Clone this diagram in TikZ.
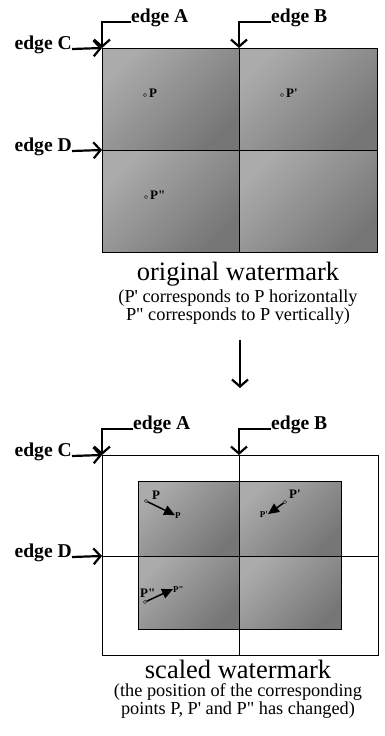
\documentclass[tikz,border=0pt]{standalone}
\usepackage{fontspec}
\setmainfont{Liberation Serif}[Ligatures=TeXOff]
\usetikzlibrary{arrows.meta, positioning, calc}
\definecolor{PanelDark}{HTML}{767676}
\definecolor{PanelLight}{HTML}{ABABAB}

\begin{document}
\begin{tikzpicture}[x=1pt, y=-1pt,
    edgelbl/.style={font=\fontsize{19.6}{20}\selectfont\bfseries, inner sep=0pt},
    caption/.style={font=\fontsize{26.5}{27}\selectfont, inner sep=0pt},
    subcap/.style={font=\fontsize{18.3}{18}\selectfont, align=center, inner sep=0pt},
    ptlbl/.style={font=\fontsize{13}{13}\selectfont\bfseries, inner sep=0pt},
    smallpt/.style={font=\fontsize{9}{9}\selectfont\bfseries, inner sep=0pt},
    dot/.style={circle, draw, fill=white, inner sep=0pt, minimum size=3pt, line width=0.5pt},
    pointer/.style={-{Straight Barb[length=7pt, width=16pt, line width=2.2pt]}, line width=2.2pt},
    moved/.style={-{Triangle[length=11pt, width=10pt]}, line width=1.5pt},
    quad/.style={left color=PanelLight, right color=PanelDark, shading angle=45}
  ]
    \useasboundingbox (0,0) rectangle (385,736);

    % original watermark
    \shade[quad] (102,48) rectangle (239,150);
    \shade[quad] (239,48) rectangle (377,150);
    \shade[quad] (102,150) rectangle (239,252);
    \shade[quad] (239,150) rectangle (377,252);
    \draw[line width=1pt] (102,48) rectangle (377,252);
    \draw[line width=1pt] (239,48) -- (239,252);
    \draw[line width=1pt] (102,150) -- (377,150);

    \coordinate (oA) at (102,48);
    \coordinate (oB) at (239,48);
    \coordinate (oC) at (102,48);
    \coordinate (oD) at (102,150);

    \node[edgelbl, anchor=base west] (oedgeA) at (131,22) {edge A};
    \node[edgelbl, anchor=base west] (oedgeB) at (271,22) {edge B};
    \node[edgelbl, anchor=base east] (oedgeC) at (72,49) {edge C};
    \node[edgelbl, anchor=base east] (oedgeD) at (72,151) {edge D};
    \draw[pointer] (oedgeA.base west) -| (oA);
    \draw[pointer] (oedgeB.base west) -| (oB);
    \draw[pointer] (oedgeC.base east) -- (oC);
    \draw[pointer] (oedgeD.base east) -- (oD);

    \node[dot] (oP) at (145,95) {};
    \node[ptlbl, anchor=base west] (oPl) at (149,97) {P};
    \node[dot] (oP1) at (282,95) {};
    \node[ptlbl, anchor=base west] (oP1l) at (286,97) {P'};
    \node[dot] (oP2) at (146,197) {};
    \node[ptlbl, anchor=base west] (oP2l) at (150,199) {P"};

    \node[caption] (ocap) at (238,274) {original watermark};
    \node[subcap] (osub) at (238,307) {(P' corresponds to P horizontally\\P" corresponds to P vertically)};

    \coordinate (down1) at (240,340);
    \coordinate (down2) at (240,388);
    \draw[pointer] (down1) -- (down2);

    % scaled watermark
    \shade[quad] (138,481) rectangle (239,556);
    \shade[quad] (239,481) rectangle (341,556);
    \shade[quad] (138,556) rectangle (239,629);
    \shade[quad] (239,556) rectangle (341,629);
    \draw[line width=0.8pt] (138,481) rectangle (341,629);
    \draw[line width=0.8pt] (102,455) rectangle (378,655);
    \draw[line width=0.8pt] (239,455) -- (239,655);
    \draw[line width=0.8pt] (102,556) -- (378,556);

    \coordinate (sA) at (102,455);
    \coordinate (sB) at (239,455);
    \coordinate (sC) at (102,455);
    \coordinate (sD) at (102,556);

    \node[edgelbl, anchor=base west] (sedgeA) at (133,429) {edge A};
    \node[edgelbl, anchor=base west] (sedgeB) at (271,429) {edge B};
    \node[edgelbl, anchor=base east] (sedgeC) at (72,456) {edge C};
    \node[edgelbl, anchor=base east] (sedgeD) at (72,557) {edge D};
    \draw[pointer] (sedgeA.base west) -| (sA);
    \draw[pointer] (sedgeB.base west) -| (sB);
    \draw[pointer] (sedgeC.base east) -- (sC);
    \draw[pointer] (sedgeD.base east) -- (sD);

    \node[dot] (sP) at (146,501) {};
    \node[ptlbl, anchor=base west] (sPl) at (152,499) {P};
    \node[smallpt, anchor=base west] (sPn) at (175,518) {P};
    \draw[moved] (sP) -- (sPn.west);

    \node[dot] (sP1) at (285,502) {};
    \node[ptlbl, anchor=base west] (sP1l) at (289,498) {P'};
    \node[smallpt, anchor=base east] (sP1n) at (268,517) {P'};
    \draw[moved] (sP1) -- (sP1n.east);

    \node[dot] (sP2) at (145,602) {};
    \node[ptlbl, anchor=base west] (sP2l) at (140,597) {P"};
    \node[smallpt, anchor=base west] (sP2n) at (173,592) {P"};
    \draw[moved] (sP2) -- (sP2n.west);

    \node[caption] (scap) at (238,669) {scaled watermark};
    \node[subcap] (ssub) at (238,701) {(the position of the corresponding\\points P, P' and P" has changed)};
\end{tikzpicture}
\end{document}
